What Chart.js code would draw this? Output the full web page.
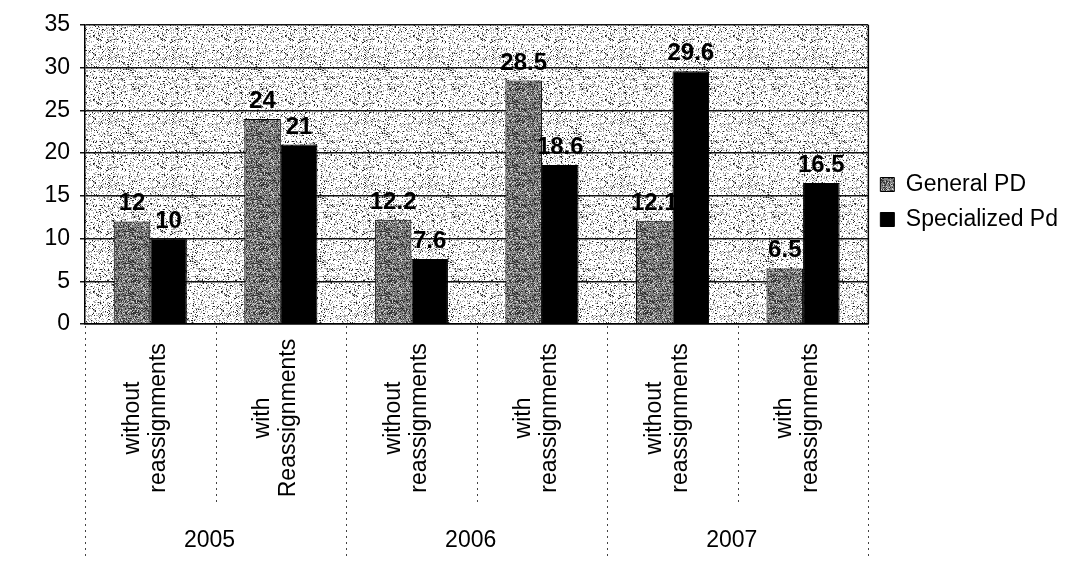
<!DOCTYPE html>
<html>
<head>
<meta charset="utf-8">
<script src="https://cdn.jsdelivr.net/npm/chart.js@4"></script>
<style>body{margin:0;background:#fff}</style>
</head>
<body>
<canvas id="chart" width="1068" height="570"></canvas>
<script>
let subLabels = [
	['without', 'reassignments'],
	['with', 'Reassignments'],
	['without', 'reassignments'],
	['with', 'reassignments'],
	['without', 'reassignments'],
	['with', 'reassignments']
];
let catYears = ['2005', '2005', '2006', '2006', '2007', '2007'];
let generalPD = [12, 24, 12.2, 28.5, 12.1, 6.5];
let specializedPd = [10, 21, 7.6, 18.6, 29.6, 16.5];
let yMax = 35, yStep = 5;

const FONT = "'Liberation Sans', Arial, sans-serif";

// scanned-looking speckle fill (deterministic hash, only for texture)
function speckle(size, base, specks) {
	let c = document.createElement('canvas');
	c.width = c.height = size;
	let g = c.getContext('2d');
	g.fillStyle = base;
	g.fillRect(0, 0, size, size);
	for (let y = 0; y < size; y++) {
		for (let x = 0; x < size; x++) {
			let s = Math.sin(x * 12.9898 + y * 78.233) * 43758.5453;
			let v = (s - Math.floor(s)) * 100;
			for (let sp of specks) {
				if (v < sp.p) { g.fillStyle = sp.color; g.fillRect(x, y, 1, 1); break; }
			}
		}
	}
	return g.createPattern(c, 'repeat');
}

let plotFill = speckle(64, '#ffffff', [{p: 7, color: '#222'}, {p: 30, color: '#a8a8a8'}]);
let grayFill = speckle(32, '#808080', [{p: 32, color: '#333'}, {p: 50, color: '#cfcfcf'}]);

function drawLabels(chart, idx) {
	let ctx = chart.ctx;
	let meta = chart.getDatasetMeta(idx);
	let vals = chart.data.datasets[idx].data;
	ctx.save();
	ctx.font = 'bold 24px ' + FONT;
	ctx.fillStyle = '#000';
	ctx.textAlign = 'center';
	ctx.textBaseline = 'alphabetic';
	meta.data.forEach(function(bar, i) {
		ctx.fillText(String(vals[i]), bar.x, bar.y - 11);
	});
	ctx.restore();
}

const plotBg = {
	id: 'plotBg',
	beforeDraw(chart) {
		let a = chart.chartArea, ctx = chart.ctx;
		ctx.save();
		ctx.fillStyle = plotFill;
		ctx.fillRect(a.left, a.top, a.right - a.left, a.bottom - a.top);
		ctx.restore();
	}
};

const barLabels = {
	id: 'barLabels',
	// General PD labels go under the bars, so the tall black bar can hide part of one
	beforeDatasetsDraw(chart) { drawLabels(chart, 0); },
	afterDatasetsDraw(chart) {
		drawLabels(chart, 1);
		let a = chart.chartArea, ctx = chart.ctx;
		ctx.save();
		ctx.strokeStyle = '#000';
		ctx.lineWidth = 1.5;
		ctx.beginPath();
		ctx.moveTo(a.right, a.top);
		ctx.lineTo(a.right, a.bottom);
		ctx.stroke();
		ctx.restore();
	}
};

const catAxis = {
	id: 'catAxis',
	afterDraw(chart) {
		let xs = chart.scales.x, ctx = chart.ctx;
		let px = i => xs.getPixelForValue(i);
		ctx.save();
		// separators
		ctx.strokeStyle = '#444';
		ctx.lineWidth = 1;
		ctx.setLineDash([2, 4]);
		for (let k = 0; k <= subLabels.length; k++) {
			let x = k == 0 ? xs.left : k == subLabels.length ? xs.right : (px(k - 1) + px(k)) / 2;
			let outer = k == 0 || k == subLabels.length || catYears[k] != catYears[k - 1];
			ctx.beginPath();
			ctx.moveTo(Math.round(x) + 0.5, xs.top + 2);
			ctx.lineTo(Math.round(x) + 0.5, xs.top + (outer ? 232 : 182));
			ctx.stroke();
		}
		ctx.setLineDash([]);
		// rotated category labels
		ctx.fillStyle = '#000';
		ctx.font = '23px ' + FONT;
		ctx.textAlign = 'center';
		ctx.textBaseline = 'middle';
		subLabels.forEach(function(lines, i) {
			ctx.save();
			ctx.translate(px(i) - 5, xs.top + 94);
			ctx.rotate(-Math.PI / 2);
			lines.forEach(function(t, j) {
				ctx.fillText(t, 0, (j - (lines.length - 1) / 2) * 26);
			});
			ctx.restore();
		});
		// year labels
		let years = [...new Set(catYears)];
		years.forEach(function(yr) {
			let first = catYears.indexOf(yr), last = catYears.lastIndexOf(yr);
			ctx.fillText(yr, (px(first) + px(last)) / 2 - 6, xs.top + 217);
		});
		ctx.restore();
	}
};

let chart = new Chart(document.getElementById('chart'), {
	type: 'bar',
	data: {
		labels: subLabels.map(l => l.join(' ')),
		datasets: [{
			label: 'General PD',
			data: generalPD,
			backgroundColor: grayFill,
			borderColor: '#000',
			borderWidth: 1
		}, {
			label: 'Specialized Pd',
			data: specializedPd,
			backgroundColor: '#000',
			borderColor: '#000',
			borderWidth: 1
		}]
	},
	options: {
		responsive: false,
		animation: false,
		layout: {padding: {top: 25, left: 0, right: 0, bottom: 0}},
		datasets: {bar: {categoryPercentage: 0.56, barPercentage: 1}},
		scales: {
			x: {
				offset: true,
				ticks: {display: false},
				grid: {display: false},
				border: {display: true, color: '#000', width: 1.5},
				afterFit(s) { s.height = 246; }
			},
			y: {
				min: 0,
				max: yMax,
				ticks: {stepSize: yStep, color: '#000', padding: 10, font: {size: 23, family: FONT}},
				grid: {color: '#111', lineWidth: 1.5, tickLength: 5},
				border: {display: true, color: '#000', width: 1.5},
				afterFit(s) { s.width = 85; }
			}
		},
		plugins: {
			tooltip: {enabled: false},
			legend: {
				position: 'right',
				align: 'start',
				title: {display: true, text: ' ', font: {size: 10}, padding: {top: 124, bottom: 0}},
				labels: {
					boxWidth: 14,
					boxHeight: 14,
					padding: 12,
					color: '#000',
					font: {size: 23, family: FONT},
					sort: (a, b) => a.datasetIndex - b.datasetIndex
				}
			}
		}
	},
	plugins: [plotBg, barLabels, catAxis]
});
</script>
</body>
</html>
